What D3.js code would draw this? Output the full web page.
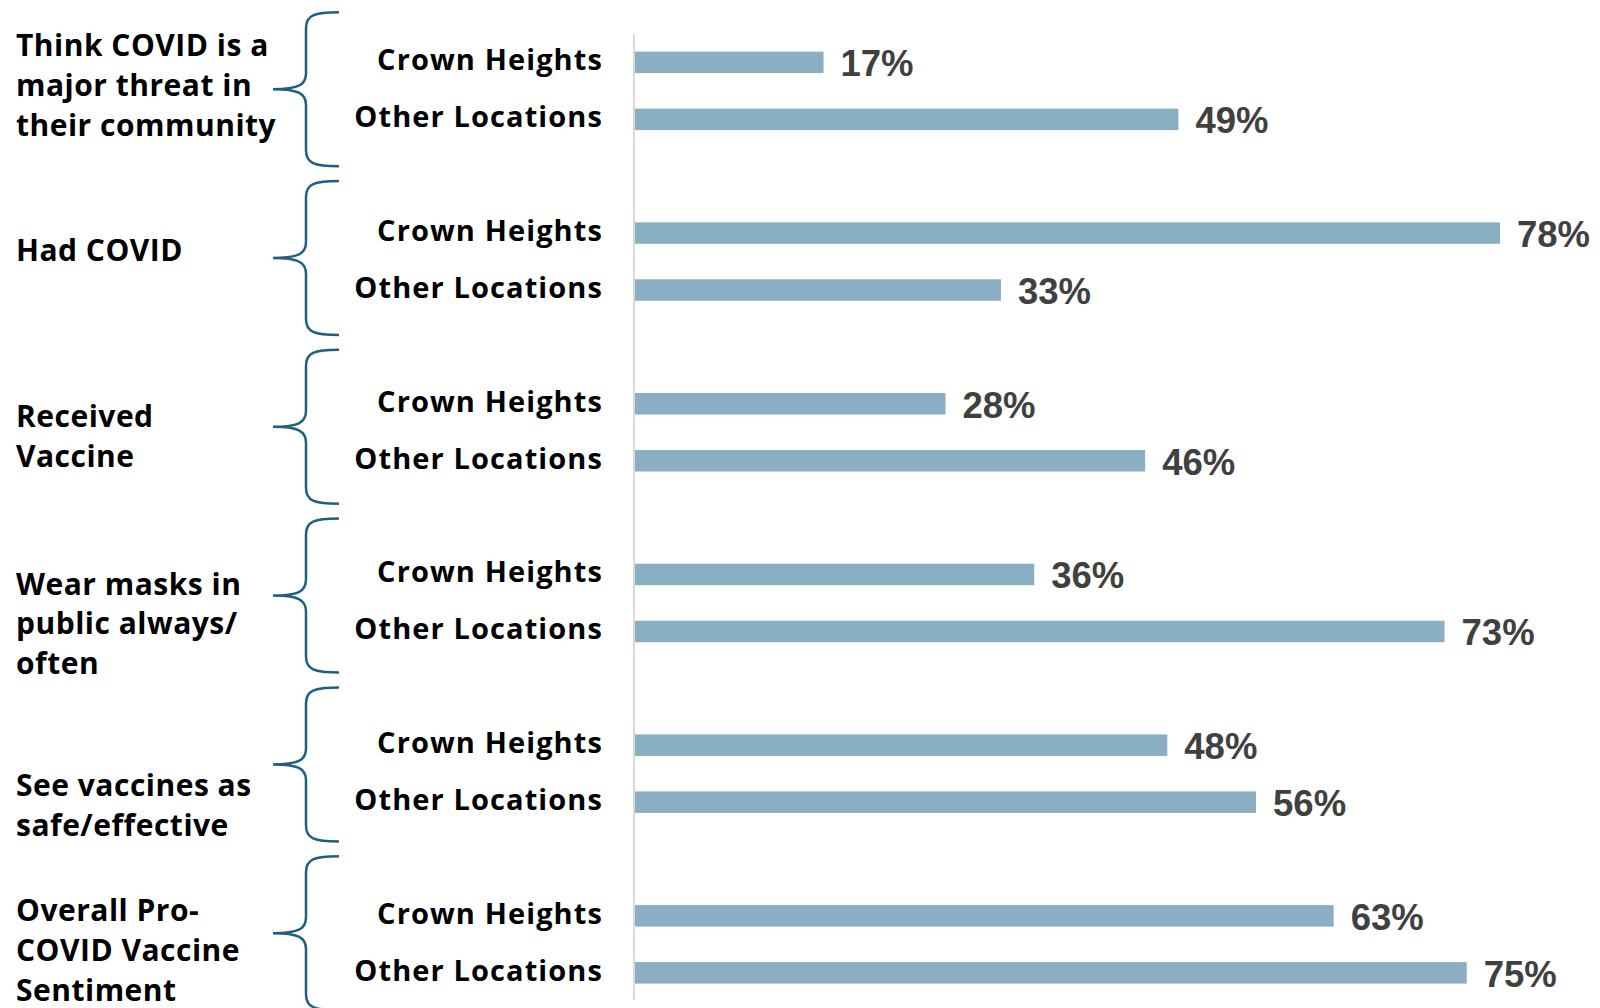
<!DOCTYPE html>
<html>
<head>
<meta charset="utf-8">
<script src="https://cdn.jsdelivr.net/npm/d3@7"></script>
<style>
  html, body { margin: 0; padding: 0; background: #ffffff; }
  svg { display: block; }
</style>
</head>
<body>
<svg id="chart" width="1600" height="1008"></svg>
<script>
// Survey measures (one group per measure), each split by location
const measures = [
  "Think COVID is a major threat in their community",
  "Had COVID",
  "Received Vaccine",
  "Wear masks in public always/often",
  "See vaccines as safe/effective",
  "Overall Pro-COVID Vaccine Sentiment"
];
const measureLines = [
  ["Think COVID is a", "major threat in", "their community"],
  ["Had COVID"],
  ["Received", "Vaccine"],
  ["Wear masks in", "public always/", "often"],
  ["See vaccines as", "safe/effective"],
  ["Overall Pro-", "COVID Vaccine", "Sentiment"]
];
const locations = ["Crown Heights", "Other Locations"];
const crownHeights   = [17, 78, 28, 36, 48, 63];
const otherLocations = [49, 33, 46, 73, 56, 75];

const rows = measures.flatMap((m, i) => [
  { measure: m, location: locations[0], value: crownHeights[i] },
  { measure: m, location: locations[1], value: otherLocations[i] }
]);

const svg = d3.select("#chart");

const x = d3.scaleLinear().domain([0, 100]).range([635, 1744]);
const yGroup = d3.scaleBand().domain(measures).range([5.5, 1029.7]).padding(0);
const yInner = d3.scalePoint().domain(locations).range([-28.5, 28.5]);
// the braces sit on a slightly tighter rhythm than the bar groups
const yBrace = d3.scaleBand().domain(measures).range([4.8, 1017.6]).padding(0);
const barH = 21.5;
const cy = d => yGroup(d.measure) + yGroup.bandwidth() / 2 + yInner(d.location);

// vertical baseline of the bars
svg.append("line")
  .attr("x1", x(0) - 1).attr("x2", x(0) - 1)
  .attr("y1", 34).attr("y2", 1000)
  .attr("stroke", "#d9d9d9").attr("stroke-width", 2);

// bars
svg.append("g").selectAll("rect").data(rows).join("rect")
  .attr("x", x(0))
  .attr("y", d => cy(d) - barH / 2)
  .attr("width", d => x(d.value) - x(0))
  .attr("height", barH)
  .attr("fill", "#8bafc2");

// value labels
svg.append("g").selectAll("text").data(rows).join("text")
  .attr("x", d => x(d.value) + 17)
  .attr("y", d => cy(d) + 14)
  .attr("font-family", "'Liberation Sans', Arial, sans-serif")
  .attr("font-weight", 700)
  .attr("font-size", 36.5)
  .attr("fill", "#404040")
  .text(d => d.value + "%");

// location labels
svg.append("g").selectAll("text").data(rows).join("text")
  .attr("x", 603)
  .attr("y", d => cy(d) + 8)
  .attr("text-anchor", "end")
  .attr("font-family", "'Open Sans', sans-serif")
  .attr("font-weight", 700)
  .attr("font-size", 29)
  .attr("letter-spacing", 1.1)
  .attr("fill", "#000000")
  .text(d => d.location);

// curly braces joining each measure to its pair of bars
const bv = 306, arm = 33, half = 77;
function bracePath(t) {
  const top = t - half, bot = t + half;
  return `M${bv + arm},${top} C${bv + 8},${top} ${bv},${top + 3} ${bv},${top + 16}` +
         ` L${bv},${t - 16} C${bv},${t - 4} ${bv - 8},${t} ${bv - arm},${t}` +
         ` M${bv - arm},${t} C${bv - 8},${t} ${bv},${t + 4} ${bv},${t + 16}` +
         ` L${bv},${bot - 16} C${bv},${bot - 3} ${bv + 8},${bot} ${bv + arm},${bot}`;
}
svg.append("g").selectAll("path").data(measures).join("path")
  .attr("d", m => bracePath(yBrace(m) + yBrace.bandwidth() / 2))
  .attr("fill", "none")
  .attr("stroke", "#1f5f80")
  .attr("stroke-width", 2.5);

// measure labels, wrapped over several lines
const lineGap = 39.8;
const labelNudge = [-5.5, -11, 4, 21, 31.5, 6];
const lab = svg.append("g").selectAll("text").data(measures).join("text")
  .attr("font-family", "'Open Sans', sans-serif")
  .attr("font-weight", 700)
  .attr("font-size", 30)
  .attr("letter-spacing", 0.5)
  .attr("fill", "#000000");
lab.each(function (m, i) {
  const lines = measureLines[i];
  const c = yGroup(m) + yGroup.bandwidth() / 2 + labelNudge[i];
  const first = c - (lines.length - 1) * lineGap / 2 + 10.5;
  d3.select(this).selectAll("tspan").data(lines).join("tspan")
    .attr("x", 16)
    .attr("y", (l, k) => first + k * lineGap)
    .text(l => l);
});
</script>
</body>
</html>
